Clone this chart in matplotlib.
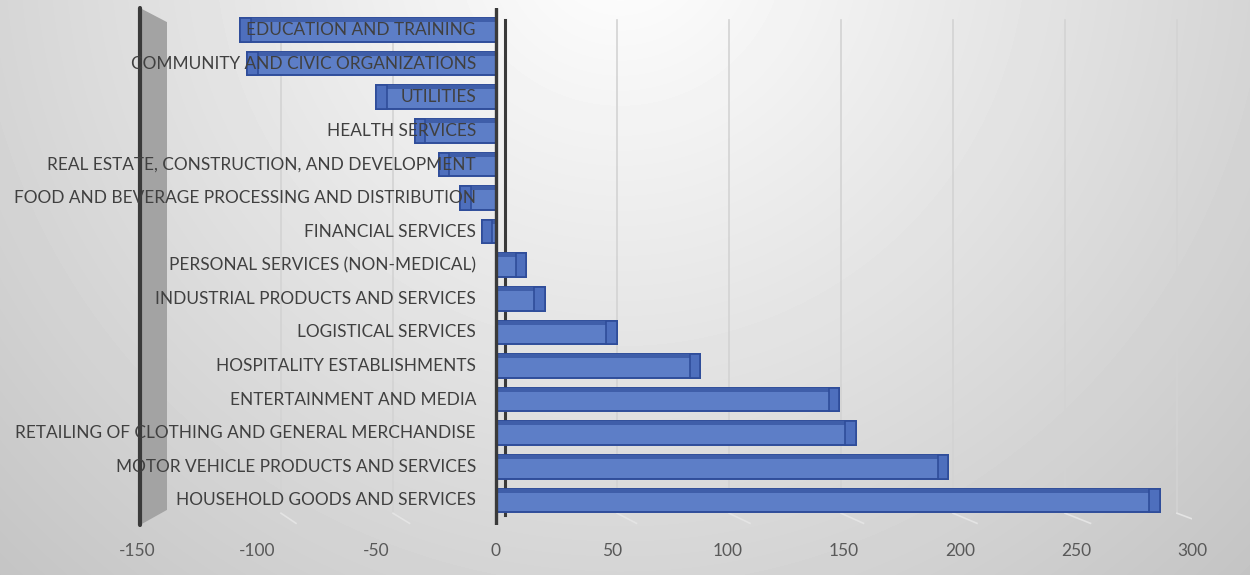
import numpy as np
import matplotlib
matplotlib.use("Agg")
import matplotlib.pyplot as plt
from matplotlib.patches import Polygon, Rectangle

# Net change by industry sector
categories = [
    "EDUCATION AND TRAINING",
    "COMMUNITY AND CIVIC ORGANIZATIONS",
    "UTILITIES",
    "HEALTH SERVICES",
    "REAL ESTATE, CONSTRUCTION, AND DEVELOPMENT",
    "FOOD AND BEVERAGE PROCESSING AND DISTRIBUTION",
    "FINANCIAL SERVICES",
    "PERSONAL SERVICES (NON-MEDICAL)",
    "INDUSTRIAL PRODUCTS AND SERVICES",
    "LOGISTICAL SERVICES",
    "HOSPITALITY ESTABLISHMENTS",
    "ENTERTAINMENT AND MEDIA",
    "RETAILING OF CLOTHING AND GENERAL MERCHANDISE",
    "MOTOR VEHICLE PRODUCTS AND SERVICES",
    "HOUSEHOLD GOODS AND SERVICES",
]
values = [-107, -104, -50, -34, -24, -15, -6, 13, 21, 52, 88, 148, 155, 195, 286]
x_ticks = [-150, -100, -50, 0, 50, 100, 150, 200, 250, 300]

W, H = 1250, 575
fig = plt.figure(figsize=(W / 100, H / 100), dpi=100)

# radial grey background, brightest near the top centre
bg = fig.add_axes([0, 0, 1, 1], zorder=-10)
yy, xx = np.mgrid[0:H, 0:W]
dist = np.hypot(xx - 620, yy + 60)
shade = np.clip(1.0 - 0.00026 * dist, 0.76, 1.0)
bg.imshow(shade, cmap="gray", vmin=0, vmax=1, extent=[0, W, H, 0], aspect="auto")
bg.set_xlim(0, W)
bg.set_ylim(H, 0)
bg.axis("off")

# perspective-like value scale: the negative side is slightly stretched
neg_stretch = 2.39 / 2.32


def fwd(x):
    x = np.asarray(x, dtype=float)
    return np.where(x < 0, x * neg_stretch, x)


def inv(u):
    u = np.asarray(u, dtype=float)
    return np.where(u < 0, u / neg_stretch, u)


zero_px, px_per_unit = 496, 2.32
left_px = zero_px + float(fwd(x_ticks[0])) * px_per_unit
right_px = zero_px + float(fwd(x_ticks[-1])) * px_per_unit
top_px, bot_px = 8, 525
ax = fig.add_axes([left_px / W, 1 - bot_px / H, (right_px - left_px) / W, (bot_px - top_px) / H])
ax.patch.set_alpha(0)
ax.set_xscale("function", functions=(fwd, inv))


def px_to_x(px):
    return float(inv((px - zero_px) / px_per_unit))


n = len(categories)
pos = np.arange(n)
step_px = 33.6
first_px = 30
y_top = (top_px - first_px) / step_px
y_bot = (bot_px - first_px) / step_px
ax.set_xlim(x_ticks[0], x_ticks[-1])
ax.set_ylim(y_bot, y_top)

for s in ax.spines.values():
    s.set_visible(False)
ax.set_yticks([])
ax.set_xticks(x_ticks)
ax.set_xticks([], minor=True)
ax.set_xticklabels([str(t) for t in x_ticks], fontsize=12.5, color="#595959", family="Lato")
ax.tick_params(axis="x", length=0, pad=13)

# gridlines on the back wall, with a short segment across the floor
for t in x_ticks[1:]:
    if t == 0:
        continue
    gx = px_to_x(505 + 2.24 * t)
    fx = px_to_x(505 + 2.24 * t + 18 + 0.03 * t)
    ax.plot([gx, gx], [y_top + 0.35, y_bot - 0.35], color="#d3d3d3", lw=1.2, zorder=0.5)
    ax.plot([gx, fx], [y_bot - 0.35, y_bot - 0.05], color="#e4e4e4", lw=1.2, zorder=0.5)

# left side wall
wx0, wx1 = px_to_x(140), px_to_x(167)
wall = Polygon([(wx0, y_top), (wx1, y_top + 0.42), (wx1, y_bot - 0.45), (wx0, y_bot)],
               closed=True, facecolor="#a3a3a3", edgecolor="none", zorder=0.8, clip_on=False)
ax.add_patch(wall)
ax.plot([wx0, wx0], [y_top, y_bot], color="#3a3a3a", lw=3, zorder=0.9,
        solid_capstyle="round", clip_on=False)

# back zero line (behind positive bars, in front of negative ones)
bx = px_to_x(505)
ax.plot([bx, bx], [y_top + 0.35, y_bot - 0.3], color="#3a3a3a", lw=2.2, zorder=2.5)

face = "#5d7ec7"
edge = "#2f4d9a"
top_col = "#3f5ea9"
side_col = "#4e6fbd"
h = 0.70
cap = 4.5
for y, v in zip(pos, values):
    z = 3 if v > 0 else 2
    ax.barh(y, v, height=h, left=0, color=face, edgecolor=edge, lw=1.4, zorder=z)
    # top face of the 3-D bar
    ax.barh(y - h / 2 + 0.06, v, height=0.12, left=0, color=top_col, edgecolor="none", zorder=z + 0.1)
    # end face of the 3-D bar
    if v > 0:
        ax.add_patch(Rectangle((v - cap, y - h / 2), cap, h, facecolor=side_col,
                               edgecolor=edge, lw=1.2, zorder=z + 0.2))
    else:
        ax.add_patch(Rectangle((v, y - h / 2), cap, h, facecolor=side_col,
                               edgecolor=edge, lw=1.2, zorder=z + 0.2))

# front zero line
ax.plot([0, 0], [y_top, y_bot], color="#3a3a3a", lw=2.4, zorder=4, solid_capstyle="round")

# category labels sit right-aligned just left of zero
for y, name in zip(pos, categories):
    ax.text(px_to_x(476), y, name, ha="right", va="center", fontsize=12.4, color="#404040",
            family="Lato", zorder=5)

fig.savefig("out.png", dpi=100)
